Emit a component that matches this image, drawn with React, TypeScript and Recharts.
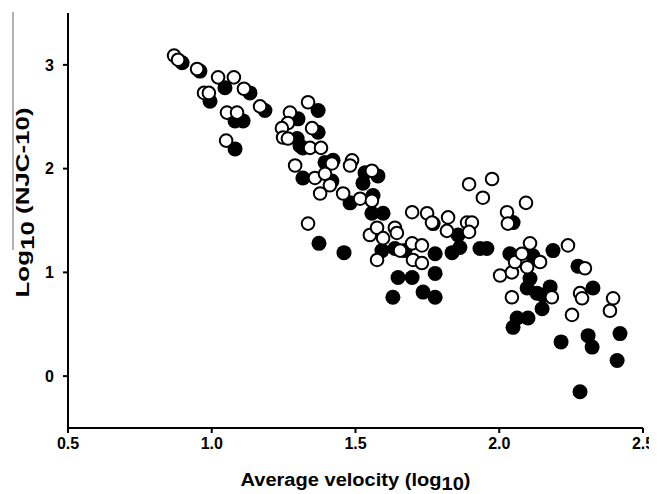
import { ScatterChart, Scatter, XAxis, YAxis } from 'recharts';

// open circles (white)
const openX = [
  0.869, 0.883, 0.949, 1.022, 1.077, 0.973, 0.99, 1.112, 1.168, 1.053, 1.088, 1.05,
  1.272, 1.265, 1.244, 1.248, 1.265, 1.335, 1.349, 1.342, 1.38, 1.29, 1.418, 1.488,
  1.481, 1.359, 1.394, 1.411, 1.377, 1.457, 1.516, 1.557, 1.557, 1.335, 1.697, 1.749,
  1.766, 1.55, 1.575, 1.596, 1.637, 1.644, 1.655, 1.575, 1.697, 1.731, 1.7, 1.731,
  1.822, 1.818, 1.888, 1.905, 1.895, 1.895, 1.975, 1.943, 2.027, 2.03, 2.093, 2.003,
  2.044, 2.055, 2.044, 2.107, 2.079, 2.097, 2.142, 2.183, 2.239, 2.298, 2.281, 2.288,
  2.396, 2.385, 2.253,
];
const openY = [
  3.09, 3.05, 2.96, 2.88, 2.88, 2.73, 2.73, 2.77, 2.6, 2.54, 2.54, 2.27,
  2.54, 2.44, 2.39, 2.3, 2.29, 2.64, 2.39, 2.2, 2.2, 2.03, 2.05, 2.08,
  2.03, 1.91, 1.95, 1.84, 1.76, 1.76, 1.71, 1.98, 1.69, 1.47, 1.58, 1.57,
  1.48, 1.36, 1.43, 1.33, 1.43, 1.38, 1.21, 1.12, 1.28, 1.26, 1.12, 1.09,
  1.53, 1.4, 1.48, 1.48, 1.39, 1.85, 1.9, 1.72, 1.58, 1.47, 1.67, 0.97,
  1.0, 1.1, 0.76, 1.28, 1.18, 1.05, 1.1, 0.76, 1.26, 1.04, 0.8, 0.75,
  0.75, 0.63, 0.59,
];

// filled circles (black)
const filledX = [
  0.897, 0.959, 1.046, 0.994, 1.133, 1.185, 1.081, 1.109, 1.081, 1.37, 1.3, 1.297,
  1.317, 1.37, 1.307, 1.317, 1.394, 1.422, 1.418, 1.481, 1.533, 1.578, 1.526, 1.561,
  1.557, 1.596, 1.373, 1.46, 1.592, 1.637, 1.672, 1.777, 1.648, 1.697, 1.777, 1.63,
  1.735, 1.777, 1.857, 1.863, 1.836, 1.933, 1.957, 1.77, 2.048, 2.037, 2.117, 2.187,
  2.107, 2.097, 2.131, 2.177, 2.149, 2.062, 2.1, 2.048, 2.274, 2.326, 2.152, 2.215,
  2.309, 2.323, 2.42, 2.41, 2.281,
];
const filledY = [
  3.02, 2.94, 2.78, 2.65, 2.73, 2.56, 2.46, 2.46, 2.19, 2.56, 2.48, 2.29,
  2.2, 2.35, 2.22, 1.91, 2.06, 2.08, 1.88, 1.67, 1.96, 1.93, 1.86, 1.74,
  1.57, 1.57, 1.28, 1.19, 1.21, 1.23, 1.21, 1.18, 0.95, 0.95, 0.99, 0.76,
  0.81, 0.76, 1.36, 1.24, 1.19, 1.23, 1.23, 1.47, 1.48, 1.18, 1.16, 1.21,
  0.94, 0.85, 0.8, 0.86, 0.65, 0.56, 0.56, 0.47, 1.06, 0.85, 0.78, 0.33,
  0.39, 0.28, 0.41, 0.15, -0.15,
];

const xTicks = [0.5, 1.0, 1.5, 2.0, 2.5];
const yTicks = [0, 1, 2, 3];

const openData = openX.map((x, i) => ({ x, y: openY[i] }));
const filledData = filledX.map((x, i) => ({ x, y: filledY[i] }));

const font = '"Liberation Sans", Arial, sans-serif';

function FilledDot(props: any) {
  return <circle cx={props.cx} cy={props.cy} r={7.5} fill="#000" />;
}

function OpenDot(props: any) {
  return <circle cx={props.cx} cy={props.cy} r={6.3} fill="#fff" stroke="#000" strokeWidth={2} />;
}

function YTitle(props: any) {
  const { viewBox } = props;
  const cx = 15;
  const cy = viewBox.y + viewBox.height / 2 - 18;
  return (
    <g>
      <line x1={5} y1={4} x2={5} y2={242} stroke="#999" strokeWidth={1.5} />
      <text
        x={cx}
        y={cy}
        transform={`rotate(-90, ${cx}, ${cy})`}
        textAnchor="middle"
        dominantBaseline="central"
        fontFamily={font}
        fontWeight="bold"
        fontSize={18}
        fill="#000"
        textLength={190}
        lengthAdjust="spacingAndGlyphs"
      >
        Log<tspan dy={5}>10</tspan>
        <tspan dy={-5}> (NJC-10)</tspan>
      </text>
    </g>
  );
}

function XTitle(props: any) {
  const { viewBox } = props;
  const cx = viewBox.x + viewBox.width / 2;
  const cy = 478;
  return (
    <text
      x={cx}
      y={cy}
      textAnchor="middle"
      fontFamily={font}
      fontWeight="bold"
      fontSize={18}
      fill="#000"
      textLength={230}
      lengthAdjust="spacingAndGlyphs"
    >
      Average velocity (log<tspan dy={4}>10</tspan>
      <tspan dy={-4}>)</tspan>
    </text>
  );
}

export default function App() {
  return (
    <div style={{ width: 649, height: 486, background: '#fff' }}>
      <ScatterChart width={649} height={486} margin={{ top: 5, right: 14, bottom: 16, left: 0 }}>
        <XAxis
          type="number"
          dataKey="x"
          domain={[0.5, 2.5]}
          ticks={xTicks}
          tickFormatter={(v: number) => v.toFixed(1)}
          height={50}
          stroke="#000"
          strokeWidth={2}
          tickSize={5}
          tickMargin={5}
          tick={{ fill: '#000', fontFamily: font, fontWeight: 'bold', fontSize: 16 }}
          label={<XTitle />}
          allowDataOverflow
        />
        <YAxis
          type="number"
          dataKey="y"
          domain={[-0.5, 3.5]}
          ticks={yTicks}
          width={60}
          stroke="#000"
          strokeWidth={2}
          tickSize={5}
          tickMargin={9}
          tick={{ fill: '#000', fontFamily: font, fontWeight: 'bold', fontSize: 16 }}
          label={<YTitle />}
          allowDataOverflow
        />
        <Scatter data={filledData} shape={FilledDot} isAnimationActive={false} />
        <Scatter data={openData} shape={OpenDot} isAnimationActive={false} />
      </ScatterChart>
    </div>
  );
}
